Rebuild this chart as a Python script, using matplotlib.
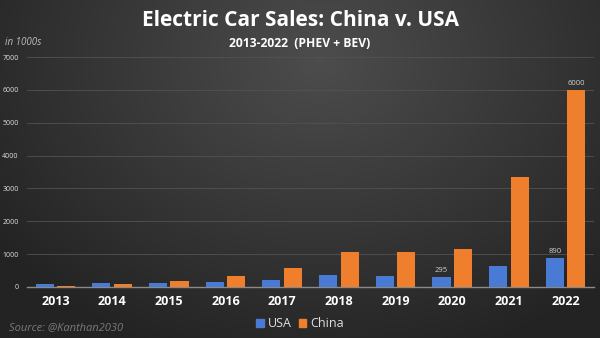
import numpy as np
import matplotlib
matplotlib.use("Agg")
import matplotlib.pyplot as plt
from matplotlib.patches import Patch

years = ['2013', '2014', '2015', '2016', '2017', '2018', '2019', '2020', '2021', '2022']
usa = [97, 119, 114, 160, 198, 361, 327, 295, 630, 890]
china = [15, 75, 195, 336, 579, 1062, 1060, 1160, 3340, 6000]
labelled_usa = {7: '295', 9: '890'}
labelled_china = {9: '6000'}

plt.rcParams['font.family'] = ['Open Sans', 'DejaVu Sans']

fig = plt.figure(figsize=(6, 3.38), dpi=100)

# dark radial background, lighter near the top centre
bg = fig.add_axes([0, 0, 1, 1], zorder=-10)
yy, xx = np.mgrid[0:338, 0:600]
r = np.sqrt(((xx - 320) / 420.0) ** 2 + ((yy - 60) / 330.0) ** 2)
shade = np.clip(0.30 - 0.17 * r, 0.14, 0.30)
bg.imshow(np.dstack([shade] * 3), aspect='auto', extent=[0, 1, 0, 1])
bg.axis('off')

ax = fig.add_axes([0.045, 0.151, 0.945, 0.68])
ax.set_facecolor('none')
x = np.arange(len(years))
w = 0.32
ax.bar(x - 0.19, usa, w, color='#4a7bd4', zorder=3)
ax.bar(x + 0.19, china, w, color='#f07f2d', zorder=3)

for i, t in labelled_usa.items():
    ax.text(x[i] - 0.19, usa[i] + 90, t, ha='center', va='bottom', color='#d0d0d0', fontsize=5.5)
for i, t in labelled_china.items():
    ax.text(x[i] + 0.19, china[i] + 90, t, ha='center', va='bottom', color='#d0d0d0', fontsize=5.5)

ax.set_xlim(-0.5, 9.5)
ax.set_ylim(0, 7000)
ax.set_yticks(range(0, 7001, 1000))
ax.set_xticks(x)
ax.set_xticklabels(years, color='white', fontsize=9, fontweight='bold')
ax.tick_params(axis='y', colors='#dddddd', labelsize=5, length=0, pad=6)
ax.tick_params(axis='x', length=0, pad=6)
ax.grid(axis='y', color='#525252', linewidth=0.6, zorder=0)
for s in ['top', 'right', 'left']:
    ax.spines[s].set_visible(False)
ax.spines['bottom'].set_color('#8a8a8a')
ax.spines['bottom'].set_linewidth(1.0)

fig.text(0.5, 0.94, 'Electric Car Sales: China v. USA', ha='center', va='center',
         color='white', fontsize=15, fontweight='bold')
fig.text(0.5, 0.872, '2013-2022  (PHEV + BEV)', ha='center', va='center',
         color='white', fontsize=8.7, fontweight='bold')
fig.text(0.008, 0.875, 'in 1000s', ha='left', va='center', color='#bbbbbb',
         fontsize=7, style='italic')
fig.text(0.015, 0.03, 'Source: @Kanthan2030', ha='left', va='center', color='#7a7a7a',
         fontsize=8, style='italic')

handles = [Patch(color='#4a7bd4', label='USA'), Patch(color='#f07f2d', label='China')]
leg = fig.legend(handles=handles, loc='center', bbox_to_anchor=(0.5, 0.042), ncol=2,
                 frameon=False, fontsize=9, handlelength=0.6, handleheight=0.6,
                 handletextpad=0.3, columnspacing=0.6)
for t in leg.get_texts():
    t.set_color('#e0e0e0')

fig.savefig('out.png', dpi=100)
